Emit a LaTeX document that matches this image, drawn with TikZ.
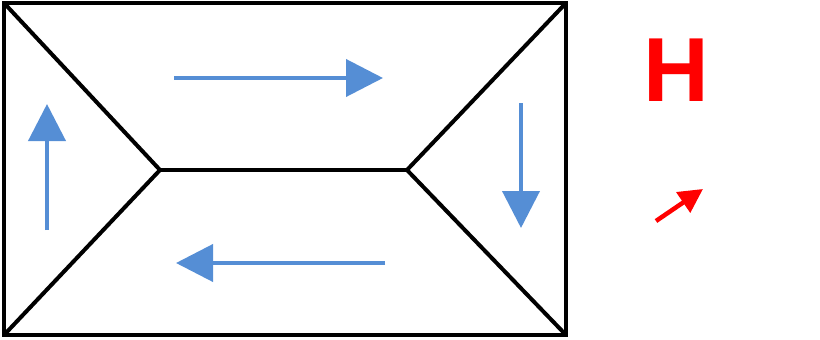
\documentclass[tikz,border=0pt]{standalone}
\usepackage{fontspec}
\setmainfont{Liberation Sans}
\usetikzlibrary{arrows.meta}
\definecolor{flowblue}{RGB}{85,142,213}
\definecolor{hred}{RGB}{255,0,0}
\begin{document}
\begin{tikzpicture}[x=1pt,y=-1pt,
  edge/.style={draw=black,line width=4pt,line join=miter},
  flow/.style={draw=flowblue,line width=4pt,-{Triangle[length=37pt,width=37pt]}},
  redarrow/.style={draw=hred,line width=4.5pt,-{Triangle[length=24pt,width=24pt]}}]
\useasboundingbox (0,0) rectangle (820,340);
\coordinate (tl) at (4,3);
\coordinate (tr) at (566,3);
\coordinate (br) at (566,335);
\coordinate (bl) at (4,335);
\coordinate (pl) at (160,170);
\coordinate (pr) at (407,170);
\draw[edge] (tl) rectangle (br);
\draw[edge] (tl) -- (pl) -- (bl);
\draw[edge] (pl) -- (pr);
\draw[edge] (tr) -- (pr) -- (br);
\coordinate (a1s) at (174,78); \coordinate (a1e) at (383,78);
\coordinate (a2s) at (521,103); \coordinate (a2e) at (521,228);
\coordinate (a3s) at (385,263); \coordinate (a3e) at (176,263);
\coordinate (a4s) at (47,230); \coordinate (a4e) at (47,104);
\draw[flow] (a1s) -- (a1e);
\draw[flow] (a2s) -- (a2e);
\draw[flow] (a3s) -- (a3e);
\draw[flow] (a4s) -- (a4e);
\node[text=hred,font=\fontsize{91}{91}\selectfont\bfseries,inner sep=0pt] (H) at (676.5,70.5) {H};
\coordinate (rs) at (656,221); \coordinate (re) at (703,189);
\draw[redarrow] (rs) -- (re);
\end{tikzpicture}
\end{document}
